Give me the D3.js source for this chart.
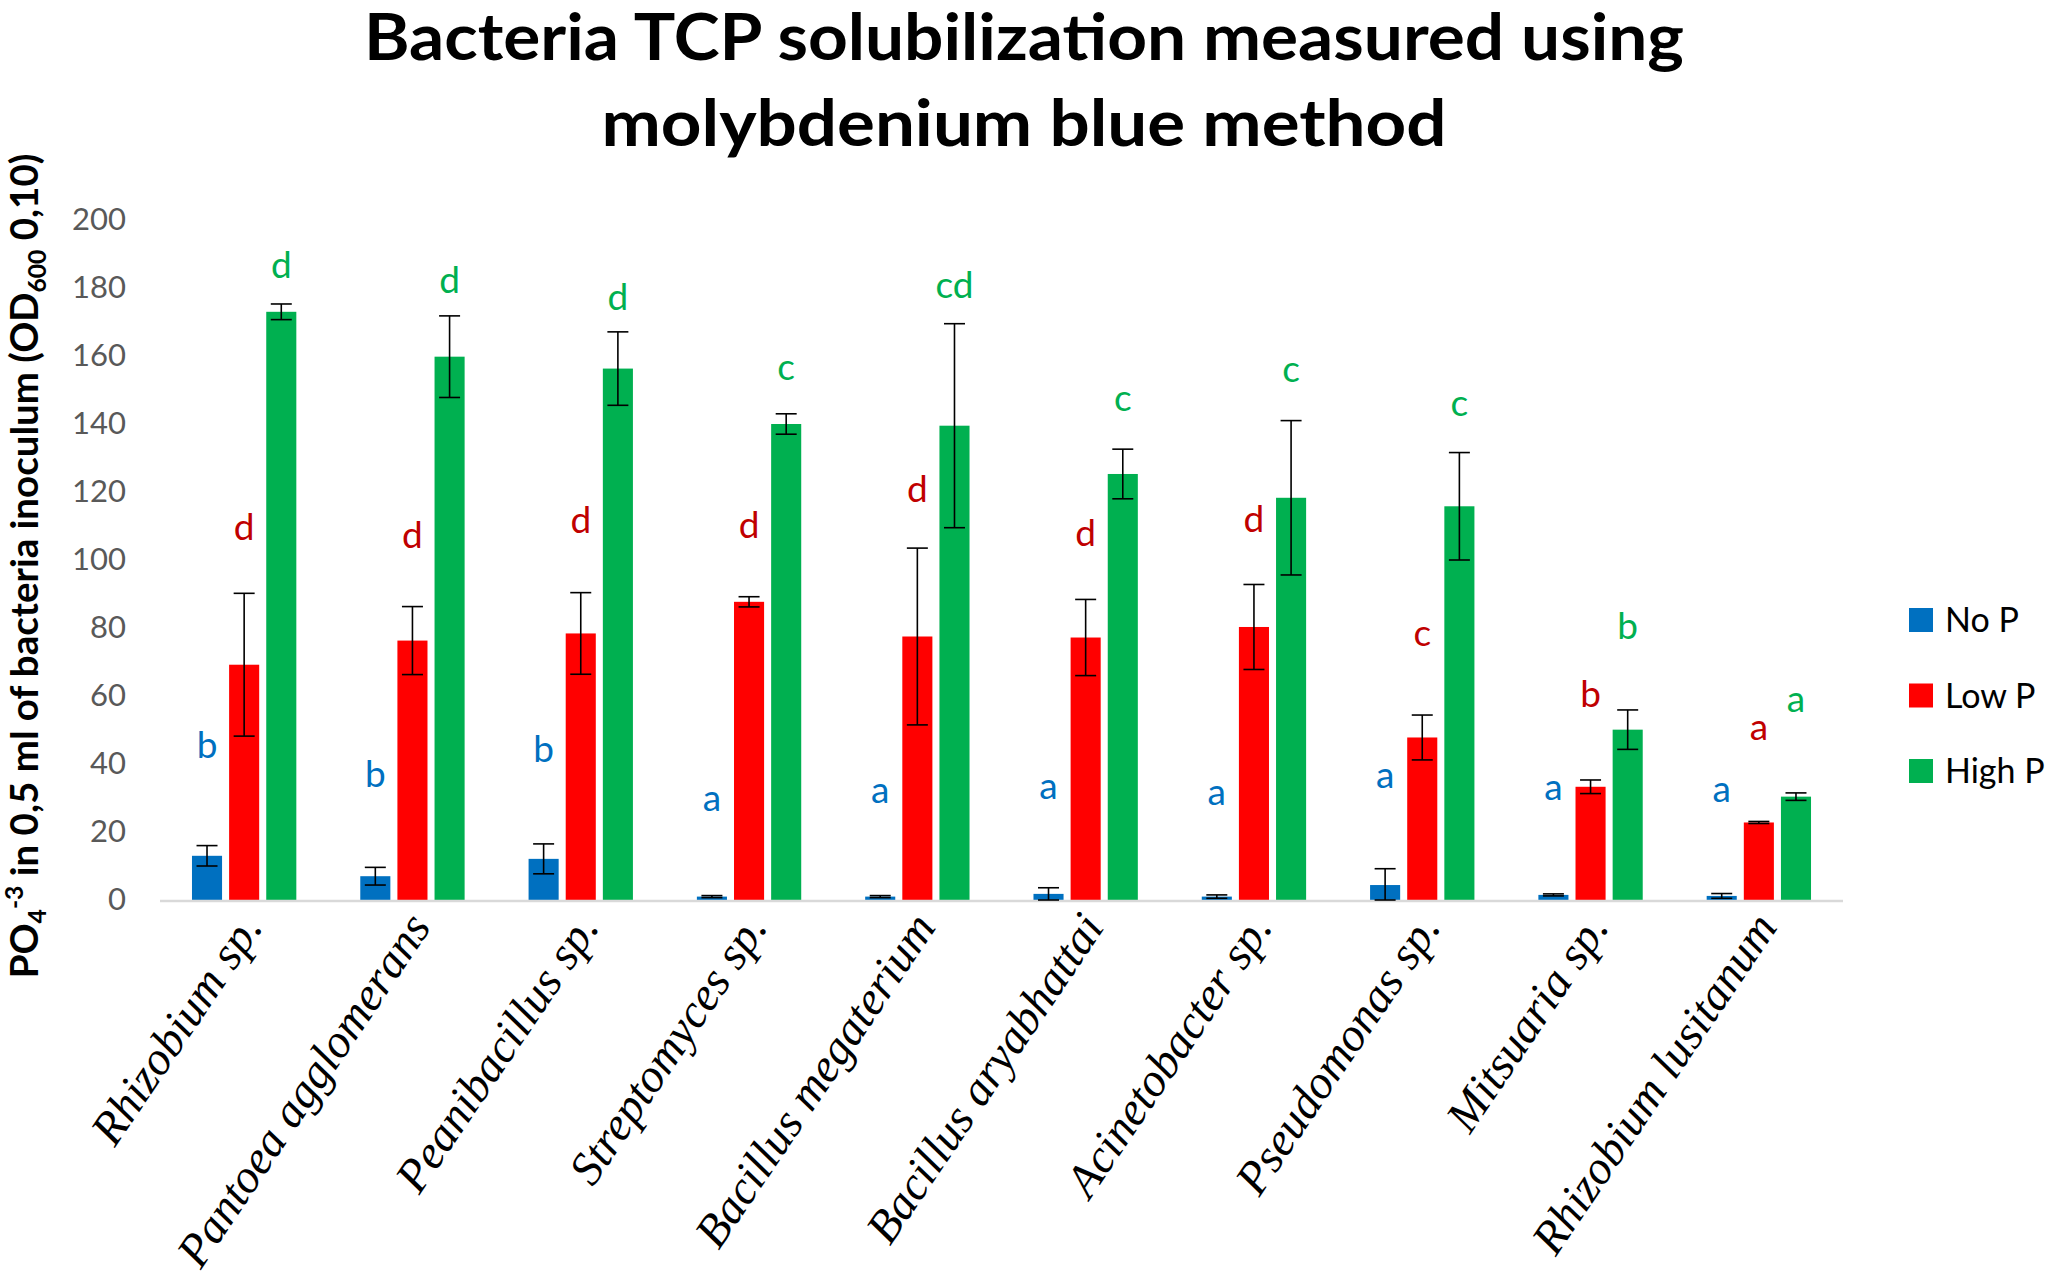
<!DOCTYPE html>
<html>
<head>
<meta charset="utf-8">
<script src="https://cdn.jsdelivr.net/npm/d3@7"></script>
<style>
  html, body { margin: 0; padding: 0; background: #fff; }
  svg { display: block; }
</style>
</head>
<body>
<div id="chart"></div>
<script>
// TCP solubilization bar chart (No P / Low P / High P) with error bars and letter groups.
const categories = ["Rhizobium sp.", "Pantoea agglomerans", "Peanibacillus sp.", "Streptomyces sp.",
  "Bacillus megaterium", "Bacillus aryabhattai", "Acinetobacter sp.", "Pseudomonas sp.",
  "Mitsuaria sp.", "Rhizobium lusitanum"];
const series = ["No P", "Low P", "High P"];

const noP   = [13, 7, 12.1, 1, 1, 1.8, 1, 4.4, 1.5, 1.2];
const lowP  = [69.2, 76.3, 78.4, 87.7, 77.5, 77.2, 80.3, 47.8, 33.3, 22.8];
const highP = [173, 159.8, 156.3, 140, 139.5, 125.3, 118.3, 115.8, 50.1, 30.4];

const noPErr   = [3, 2.6, 4.4, 0.3, 0.3, 1.8, 0.5, 4.8, 0.3, 0.7];
const lowPErr  = [21, 10, 12, 1.5, 26, 11.2, 12.5, 6.6, 2, 0.3];
const highPErr = [2.3, 12, 10.8, 3, 30, 7.3, 22.7, 15.8, 5.8, 1.1];

// significance letters and the height (in y units) where each sits
const noPLetters   = ["b", "b", "b", "a", "a", "a", "a", "a", "a", "a"];
const lowPLetters  = ["d", "d", "d", "d", "d", "d", "d", "c", "b", "a"];
const highPLetters = ["d", "d", "d", "c", "cd", "c", "c", "c", "b", "a"];
const noPLetterY   = [41.8, 33.3, 40.6, 26.3, 28.5, 29.7, 27.8, 33, 29.4, 28.7];
const lowPLetterY  = [106, 103.5, 107.9, 106.4, 117, 104, 108.2, 74.7, 56.7, 47.2];
const highPLetterY = [183, 178.5, 173.4, 152.9, 177, 143.7, 152.5, 142.5, 76.8, 55.3];

const yTicks = [0, 20, 40, 60, 80, 100, 120, 140, 160, 180, 200];

const barColors = ["#0070C0", "#FF0000", "#00B050"];
const letterColors = ["#0070C0", "#C00000", "#00B050"];

const W = 2052, H = 1287;
const svg = d3.select("#chart").append("svg").attr("width", W).attr("height", H);

const x = d3.scaleBand().domain(categories).range([160, 1843]).paddingInner(0.38).paddingOuter(0.19);
const xs = d3.scaleBand().domain(series).range([0, x.bandwidth()]).paddingInner(0.19);
const y = d3.scaleLinear().domain([0, 200]).range([900, 220]);

const values = [noP, lowP, highP], errs = [noPErr, lowPErr, highPErr];
const letters = [noPLetters, lowPLetters, highPLetters], letterY = [noPLetterY, lowPLetterY, highPLetterY];

const rows = [];
categories.forEach((c, i) => series.forEach((s, j) => rows.push({
  cat: c, s, j, v: values[j][i], e: errs[j][i], l: letters[j][i], ly: letterY[j][i]
})));

// title
const title = svg.append("g").attr("font-family", "Lato, sans-serif").attr("font-weight", 700)
  .attr("font-size", 65).attr("text-anchor", "middle").attr("fill", "#000");
title.append("text").attr("x", 1024).attr("y", 60).attr("textLength", 1320).attr("lengthAdjust", "spacingAndGlyphs")
  .text("Bacteria TCP solubilization measured using");
title.append("text").attr("x", 1024).attr("y", 146).attr("textLength", 845).attr("lengthAdjust", "spacingAndGlyphs")
  .text("molybdenium blue method");

// y axis (labels only, no line)
const yAxis = svg.append("g").attr("transform", "translate(126,0)")
  .call(d3.axisLeft(y).tickValues(yTicks).tickSize(0).tickPadding(0));
yAxis.select(".domain").remove();
yAxis.selectAll("text").attr("font-family", "Lato, sans-serif").attr("font-size", 31).attr("fill", "#595959");

// bars
svg.append("g").selectAll("rect").data(rows).join("rect")
  .attr("x", d => x(d.cat) + xs(d.s)).attr("width", xs.bandwidth())
  .attr("y", d => y(d.v)).attr("height", d => y(0) - y(d.v))
  .attr("fill", d => barColors[d.j]);

// baseline
svg.append("line").attr("x1", 160).attr("x2", 1843).attr("y1", y(0) + 1).attr("y2", y(0) + 1)
  .attr("stroke", "#D9D9D9").attr("stroke-width", 2.5);

// error bars
const eb = svg.append("g").attr("stroke", "#000").attr("stroke-width", 1.6).selectAll("g").data(rows).join("g")
  .attr("transform", d => `translate(${x(d.cat) + xs(d.s) + xs.bandwidth() / 2},0)`);
eb.append("line").attr("y1", d => y(d.v + d.e)).attr("y2", d => y(Math.max(0, d.v - d.e)));
eb.append("line").attr("x1", -10.5).attr("x2", 10.5).attr("y1", d => y(d.v + d.e)).attr("y2", d => y(d.v + d.e));
eb.append("line").attr("x1", -10.5).attr("x2", 10.5).attr("y1", d => y(Math.max(0, d.v - d.e))).attr("y2", d => y(Math.max(0, d.v - d.e)));

// letters
svg.append("g").attr("font-family", "Lato, sans-serif").attr("font-size", 37).attr("text-anchor", "middle")
  .selectAll("text").data(rows).join("text")
  .attr("x", d => x(d.cat) + xs(d.s) + xs.bandwidth() / 2).attr("y", d => y(d.ly))
  .attr("fill", d => letterColors[d.j]).text(d => d.l);

// category labels
svg.append("g").attr("font-family", "'Liberation Serif', 'Times New Roman', serif").attr("font-style", "italic")
  .attr("font-size", 47).attr("text-anchor", "end").attr("fill", "#000")
  .selectAll("text").data(categories).join("text")
  .attr("transform", d => `translate(${x(d) + x.bandwidth() / 2 + 6},918) rotate(-56)`)
  .attr("dy", "0.35em").text(d => d);

// y title, sized so it spans the same height as in the original
function yTitle(fs) {
  svg.select(".ytitle").remove();
  const sm = fs * 0.64;
  const t = svg.append("text").attr("class", "ytitle").attr("transform", "translate(38,566) rotate(-90)")
    .attr("text-anchor", "middle").attr("font-family", "Lato, sans-serif")
    .attr("font-weight", 700).attr("font-size", fs).attr("fill", "#000");
  t.append("tspan").text("PO");
  t.append("tspan").attr("font-size", sm).attr("dy", fs * 0.22).text("4");
  t.append("tspan").attr("font-size", sm).attr("dy", -fs * 0.62).text("-3");
  t.append("tspan").attr("dy", fs * 0.4).text(" in 0,5 ml of bacteria inoculum (OD");
  t.append("tspan").attr("font-size", sm).attr("dy", fs * 0.22).text("600");
  t.append("tspan").attr("dy", -fs * 0.22).text(" 0,10)");
  return t;
}
let yt = yTitle(34);
const len = yt.node().getBBox().width;
yTitle(34 * 825 / len);

// legend
const lg = svg.append("g").selectAll("g").data(series).join("g")
  .attr("transform", (d, i) => `translate(1909,${608 + i * 75.5})`);
lg.append("rect").attr("width", 24).attr("height", 24).attr("fill", (d, i) => barColors[i]);
lg.append("text").attr("x", 36).attr("y", 24).attr("font-family", "Lato, sans-serif").attr("font-size", 34)
  .attr("fill", "#000").text(d => d);
</script>
</body>
</html>
